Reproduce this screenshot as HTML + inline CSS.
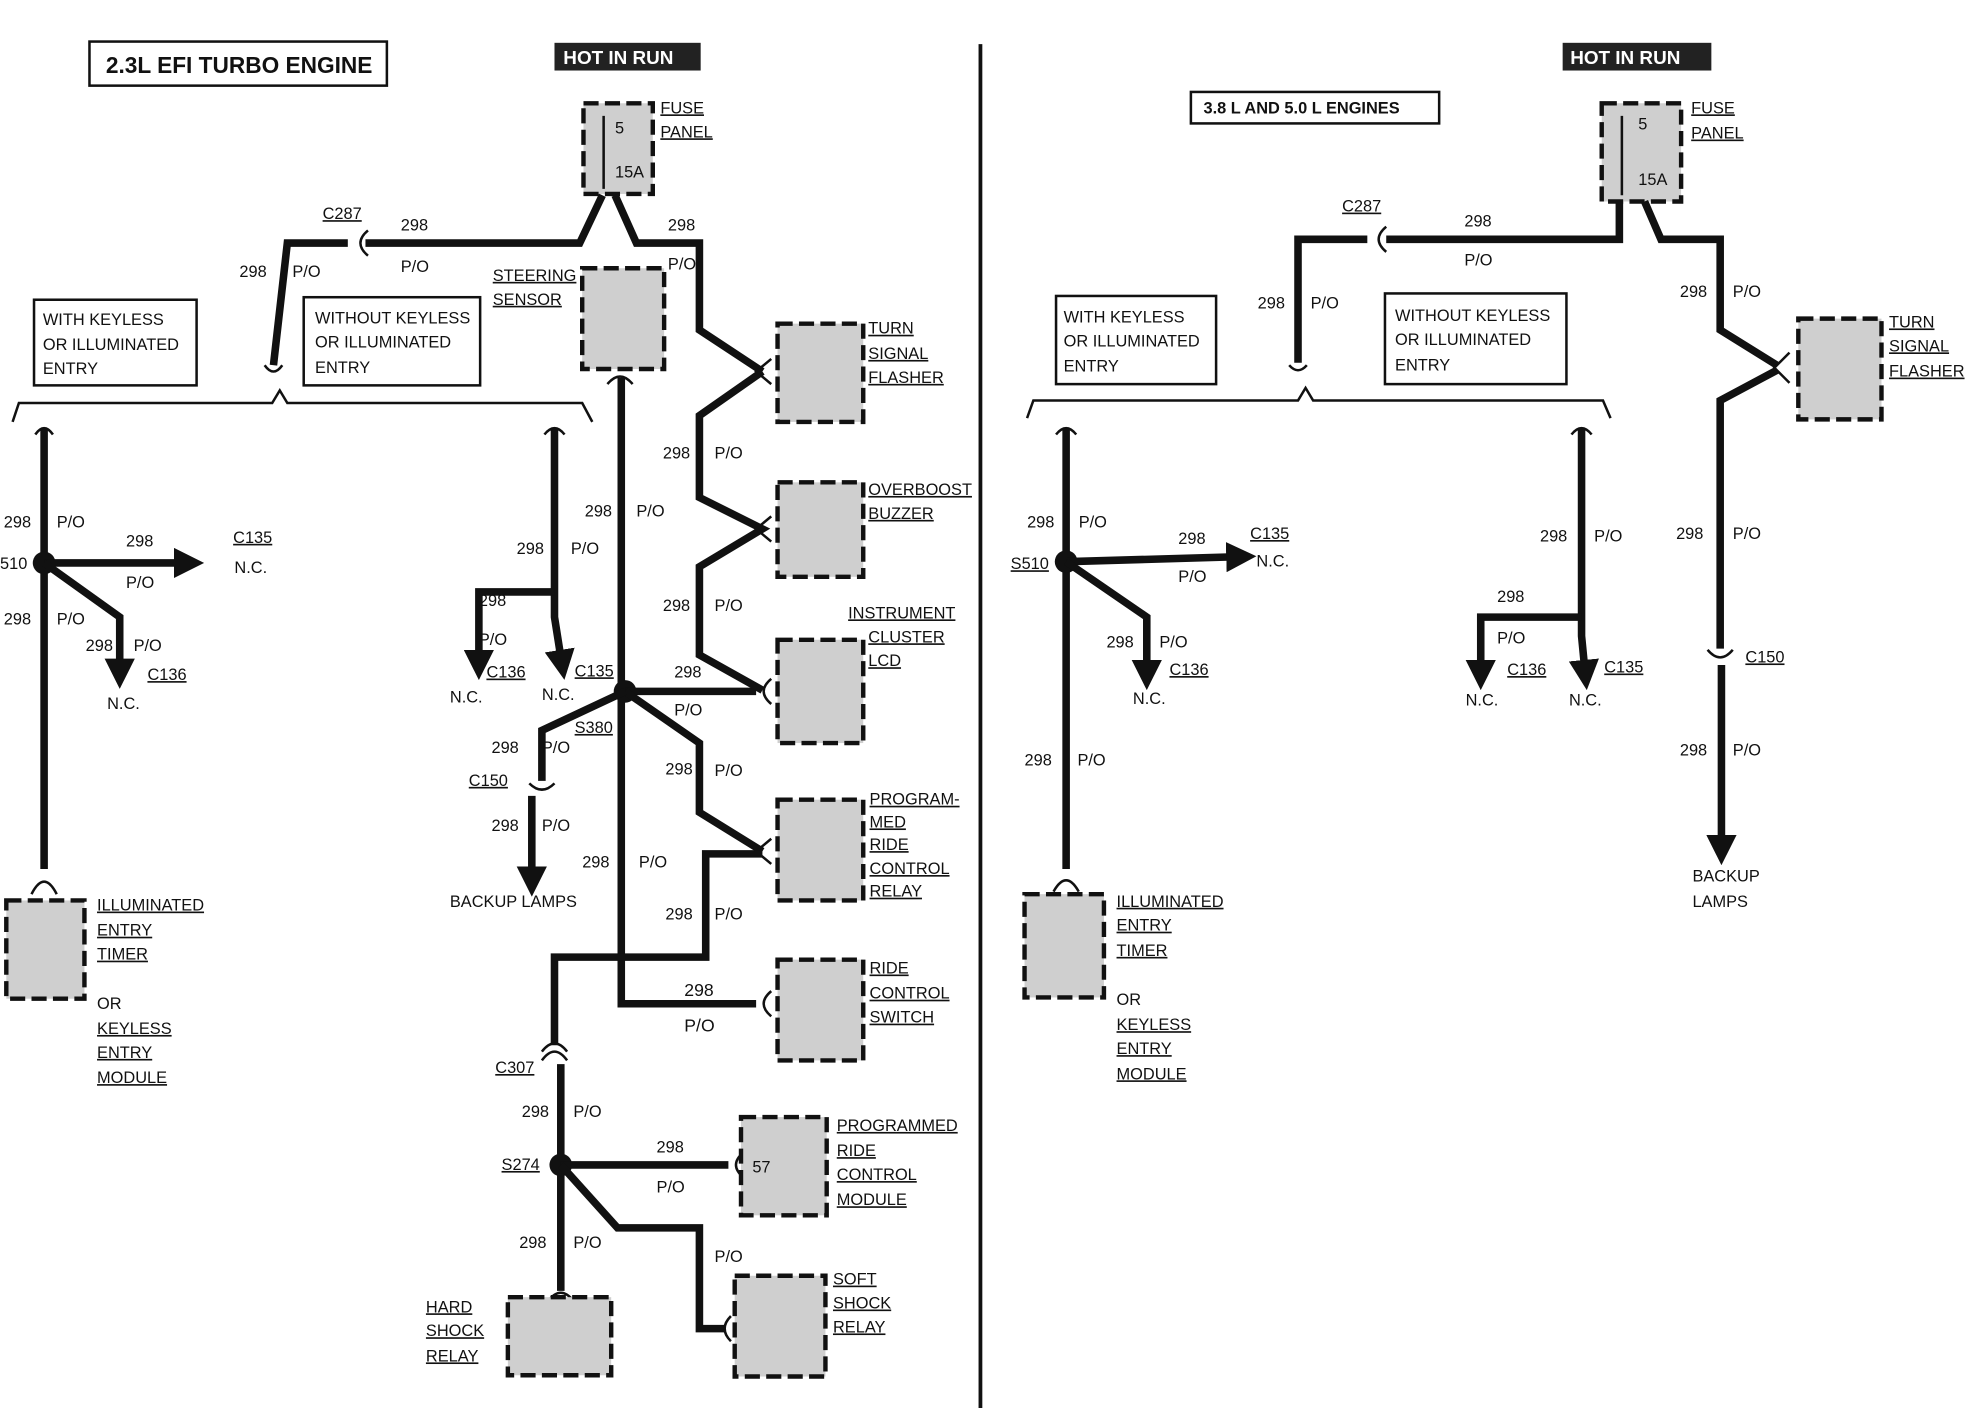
<!DOCTYPE html>
<html><head><meta charset="utf-8"><style>
html,body{margin:0;padding:0;background:#fff}
svg{display:block}
text{font-family:"Liberation Sans",Arial,sans-serif;font-size:13px;fill:#111}
.u{text-decoration:underline}
.w{fill:none;stroke:#111;stroke-width:6;stroke-linejoin:miter}
.t{fill:none;stroke:#111;stroke-width:2}
.b{fill:#cfcfcf;stroke:#111;stroke-width:3.5;stroke-dasharray:12 5}
</style></head><body>
<svg width="1976" height="1408" viewBox="0 0 1568 1118" preserveAspectRatio="none" xmlns="http://www.w3.org/2000/svg">
<defs><marker id="a" markerWidth="4" markerHeight="4" refX="2" refY="2" orient="auto"><path d="M0,0 L4,2 L0,4 z" fill="#111"/></marker></defs>
<rect width="1568" height="1118" fill="#fff"/>
<line x1="778" y1="35" x2="778" y2="1118" stroke="#111" stroke-width="3"/>

<rect x="71" y="33" width="236" height="35" class="t" fill="none"/>
<text x="84" y="58" style="font-size:18px;font-weight:bold">2.3L EFI TURBO ENGINE</text>
<rect x="440" y="34" width="116" height="22" fill="#222"/>
<text x="447" y="51" style="fill:#fff;font-size:15px;font-weight:bold">HOT IN RUN</text>
<rect x="463" y="82" width="55" height="72" class="b"/>
<text x="488" y="106">5</text><text x="488" y="141">15A</text>
<path d="M479,92 V150" class="t"/>
<text x="524" y="90" class="u">FUSE</text><text x="524" y="109" class="u">PANEL</text>
<path d="M478,155 L460,193 H290" class="w"/>
<path d="M292,183 Q280,193 292,203" class="t" stroke-width="4"/>
<path d="M276,193 H228 L217,290" class="w"/>
<path d="M210,290 Q217,300 224,290" class="t" stroke-width="3"/>
<text x="256" y="174" class="u">C287</text><text x="318" y="183">298</text><text x="318" y="216">P/O</text>
<text x="190" y="220">298</text><text x="232" y="220">P/O</text>
<path d="M488,155 L505,193 H555 V262 L605,295" class="w"/>
<text x="530" y="183">298</text><text x="530" y="214">P/O</text>
<path d="M10,335 L15,320 H216 L222,310 L228,320 H462 L470,335" class="t"/>
<rect x="27" y="238" width="129" height="68" class="t" fill="none"/>
<text x="34" y="258">WITH KEYLESS</text><text x="34" y="278">OR ILLUMINATED</text><text x="34" y="297">ENTRY</text>
<rect x="241" y="236" width="140" height="70" class="t" fill="none"/>
<text x="250" y="257">WITHOUT KEYLESS</text><text x="250" y="276">OR ILLUMINATED</text><text x="250" y="296">ENTRY</text>
<path d="M28,345 Q35,335 42,345" class="t" stroke-width="3"/>
<path d="M35,340 V690" class="w"/>
<path d="M25,710 Q35,690 45,710" class="t" stroke-width="4"/>
<circle cx="35" cy="447" r="9" fill="#111"/>
<path d="M35,447 H150" class="w" marker-end="url(#a)"/>
<path d="M35,447 L95,490 V535" class="w" marker-end="url(#a)"/>
<text x="3" y="419">298</text><text x="45" y="419">P/O</text><text x="0" y="452">510</text>
<text x="100" y="434">298</text><text x="100" y="467">P/O</text>
<text x="185" y="431" class="u">C135</text><text x="186" y="455">N.C.</text>
<text x="3" y="496">298</text><text x="45" y="496">P/O</text>
<text x="68" y="517">298</text><text x="106" y="517">P/O</text>
<text x="117" y="540" class="u">C136</text><text x="85" y="563">N.C.</text>
<rect x="5" y="715" width="62" height="78" class="b"/>
<text x="77" y="723" class="u">ILLUMINATED</text><text x="77" y="743" class="u">ENTRY</text><text x="77" y="762" class="u">TIMER</text>
<text x="77" y="801">OR</text><text x="77" y="821" class="u">KEYLESS</text><text x="77" y="840" class="u">ENTRY</text><text x="77" y="860" class="u">MODULE</text>
<path d="M432,345 Q440,335 448,345" class="t" stroke-width="3"/>
<path d="M440,340 V490 L446,528" class="w" marker-end="url(#a)"/>
<path d="M440,470 H380 V528" class="w" marker-end="url(#a)"/>
<text x="410" y="440">298</text><text x="453" y="440">P/O</text>
<text x="380" y="481">298</text><text x="380" y="512">P/O</text>
<text x="386" y="538" class="u">C136</text><text x="357" y="558">N.C.</text><text x="430" y="556">N.C.</text>
<text x="456" y="537" class="u">C135</text>
<rect x="462" y="213" width="65" height="80" class="b"/>
<text x="391" y="223" class="u">STEERING</text><text x="391" y="242" class="u">SENSOR</text>
<path d="M482,305 Q492,293 502,305" class="t" stroke-width="4"/>
<path d="M493,300 V797 H600" class="w"/>
<path d="M612,787 Q600,797 612,807" class="t" stroke-width="4"/>
<text x="464" y="410">298</text><text x="505" y="410">P/O</text>
<text x="543" y="791" style="font-size:14px">298</text><text x="543" y="819" style="font-size:14px">P/O</text>
<text x="462" y="689">298</text><text x="507" y="689">P/O</text>
<circle cx="496" cy="549" r="9" fill="#111"/>
<path d="M496,549 H600" class="w"/>
<path d="M612,539 Q600,549 612,559" class="t" stroke-width="4"/>
<text x="535" y="538">298</text><text x="535" y="568">P/O</text>
<path d="M612,285 L600,295 L612,305" class="t" stroke-width="4"/>
<path d="M605,295 L555,330 V395 L605,420 L555,450 V520 L605,548" class="w"/>
<path d="M612,410 L600,420 L612,430" class="t" stroke-width="4"/>
<text x="526" y="364">298</text><text x="567" y="364">P/O</text>
<text x="526" y="485">298</text><text x="567" y="485">P/O</text>
<rect x="617" y="257" width="68" height="78" class="b"/>
<text x="689" y="265" class="u">TURN</text><text x="689" y="285" class="u">SIGNAL</text><text x="689" y="304" class="u">FLASHER</text>
<rect x="617" y="383" width="68" height="75" class="b"/>
<text x="689" y="393" class="u">OVERBOOST</text><text x="689" y="412" class="u">BUZZER</text>
<rect x="617" y="508" width="68" height="82" class="b"/>
<text x="673" y="491" class="u">INSTRUMENT</text><text x="689" y="510" class="u">CLUSTER</text><text x="689" y="529" class="u">LCD</text>
<path d="M496,549 L555,590 V645 L605,676" class="w"/>
<path d="M612,666 L600,676 L612,686" class="t" stroke-width="4"/>
<text x="528" y="615">298</text><text x="567" y="616">P/O</text>
<path d="M605,678 H560 V760 H440 V830" class="w"/>
<text x="528" y="730">298</text><text x="567" y="730">P/O</text>
<rect x="617" y="635" width="68" height="80" class="b"/>
<text x="690" y="639" class="u">PROGRAM-</text><text x="690" y="657" class="u">MED</text><text x="690" y="675" class="u">RIDE</text><text x="690" y="694" class="u">CONTROL</text><text x="690" y="712" class="u">RELAY</text>
<rect x="617" y="762" width="68" height="80" class="b"/>
<text x="690" y="773" class="u">RIDE</text><text x="690" y="793" class="u">CONTROL</text><text x="690" y="812" class="u">SWITCH</text>
<path d="M496,549 L430,580 V620" class="w"/>
<path d="M420,622 Q430,632 440,622" class="t" stroke-width="4"/>
<path d="M422,632 V700" class="w" marker-end="url(#a)"/>
<text x="456" y="582" class="u">S380</text>
<text x="390" y="598">298</text><text x="430" y="598">P/O</text>
<text x="372" y="624" class="u">C150</text>
<text x="390" y="660">298</text><text x="430" y="660">P/O</text>
<text x="357" y="720">BACKUP  LAMPS</text>
<path d="M430,842 Q440,828 450,842" class="t" stroke-width="4"/>
<path d="M430,835 Q440,822 450,835" class="t" stroke-width="3"/>
<path d="M445,845 V1025" class="w"/>
<text x="393" y="852" class="u">C307</text>
<text x="414" y="887">298</text><text x="455" y="887">P/O</text>
<circle cx="445" cy="925" r="9" fill="#111"/>
<text x="398" y="929" class="u">S274</text>
<path d="M445,925 H578" class="w"/>
<path d="M590,915 Q578,925 590,935" class="t" stroke-width="4"/>
<text x="521" y="915">298</text><text x="521" y="947">P/O</text>
<path d="M445,925 L490,975 H555 V1055 H575" class="w"/>
<path d="M580,1045 Q570,1055 580,1065" class="t" stroke-width="4"/>
<text x="412" y="991">298</text><text x="455" y="991">P/O</text><text x="567" y="1002">P/O</text>
<path d="M435,1033 Q445,1020 455,1033" class="t" stroke-width="4"/>
<rect x="588" y="887" width="68" height="78" class="b"/>
<text x="597" y="931">57</text>
<text x="664" y="898" class="u">PROGRAMMED</text><text x="664" y="918" class="u">RIDE</text><text x="664" y="937" class="u">CONTROL</text><text x="664" y="957" class="u">MODULE</text>
<rect x="403" y="1030" width="82" height="62" class="b"/>
<text x="338" y="1042" class="u">HARD</text><text x="338" y="1061" class="u">SHOCK</text><text x="338" y="1081" class="u">RELAY</text>
<rect x="583" y="1013" width="72" height="80" class="b"/>
<text x="661" y="1020" class="u">SOFT</text><text x="661" y="1039" class="u">SHOCK</text><text x="661" y="1058" class="u">RELAY</text>

<rect x="1240" y="34" width="118" height="22" fill="#222"/>
<text x="1246" y="51" style="fill:#fff;font-size:15px;font-weight:bold">HOT IN RUN</text>
<rect x="945" y="73" width="197" height="25" class="t" fill="none"/>
<text x="955" y="90" style="font-weight:bold">3.8 L AND 5.0 L ENGINES</text>
<rect x="1271" y="82" width="63" height="78" class="b"/>
<path d="M1287,92 V155" class="t"/>
<text x="1300" y="103">5</text><text x="1300" y="147">15A</text>
<text x="1342" y="90" class="u">FUSE</text><text x="1342" y="110" class="u">PANEL</text>
<path d="M1285,160 V190 H1100" class="w"/>
<path d="M1100,180 Q1088,190 1100,200" class="t" stroke-width="4"/>
<path d="M1085,190 H1030 V288" class="w"/>
<path d="M1023,290 Q1030,298 1037,290" class="t" stroke-width="3"/>
<text x="1065" y="168" class="u">C287</text><text x="1162" y="180">298</text><text x="1162" y="211">P/O</text>
<text x="998" y="245">298</text><text x="1040" y="245">P/O</text>
<path d="M815,332 L820,318 H1030 L1036,308 L1042,318 H1272 L1278,332" class="t"/>
<rect x="838" y="235" width="127" height="70" class="t" fill="none"/>
<text x="844" y="256">WITH KEYLESS</text><text x="844" y="275">OR ILLUMINATED</text><text x="844" y="295">ENTRY</text>
<rect x="1099" y="233" width="144" height="72" class="t" fill="none"/>
<text x="1107" y="255">WITHOUT KEYLESS</text><text x="1107" y="274">OR ILLUMINATED</text><text x="1107" y="294">ENTRY</text>
<path d="M838,345 Q846,335 854,345" class="t" stroke-width="3"/>
<path d="M846,340 V690" class="w"/>
<path d="M836,708 Q846,690 856,708" class="t" stroke-width="4"/>
<circle cx="846" cy="446" r="9" fill="#111"/>
<path d="M846,446 L985,442" class="w" marker-end="url(#a)"/>
<path d="M846,446 L910,490 V536" class="w" marker-end="url(#a)"/>
<text x="815" y="419">298</text><text x="856" y="419">P/O</text>
<text x="802" y="452" class="u">S510</text>
<text x="935" y="432">298</text><text x="935" y="462">P/O</text>
<text x="992" y="428" class="u">C135</text><text x="997" y="450">N.C.</text>
<text x="878" y="514">298</text><text x="920" y="514">P/O</text>
<text x="928" y="536" class="u">C136</text><text x="899" y="559">N.C.</text>
<text x="813" y="608">298</text><text x="855" y="608">P/O</text>
<rect x="813" y="710" width="63" height="82" class="b"/>
<text x="886" y="720" class="u">ILLUMINATED</text><text x="886" y="739" class="u">ENTRY</text><text x="886" y="759" class="u">TIMER</text>
<text x="886" y="798">OR</text><text x="886" y="818" class="u">KEYLESS</text><text x="886" y="837" class="u">ENTRY</text><text x="886" y="857" class="u">MODULE</text>
<path d="M1247,345 Q1255,335 1263,345" class="t" stroke-width="3"/>
<path d="M1255,340 V505 L1258,536" class="w" marker-end="url(#a)"/>
<path d="M1255,490 H1175 V536" class="w" marker-end="url(#a)"/>
<text x="1222" y="430">298</text><text x="1265" y="430">P/O</text>
<text x="1188" y="478">298</text><text x="1188" y="511">P/O</text>
<text x="1196" y="536" class="u">C136</text><text x="1273" y="534" class="u">C135</text>
<text x="1163" y="560">N.C.</text><text x="1245" y="560">N.C.</text>
<path d="M1305,160 L1318,190 H1365 V262 L1410,290" class="w"/>
<path d="M1420,280 L1408,292 L1420,304" class="t" stroke-width="4"/>
<path d="M1410,294 L1365,318 V515" class="w"/>
<path d="M1355,516 Q1365,528 1375,516" class="t" stroke-width="4"/>
<path d="M1366,528 V675" class="w" marker-end="url(#a)"/>
<text x="1333" y="236">298</text><text x="1375" y="236">P/O</text>
<text x="1330" y="428">298</text><text x="1375" y="428">P/O</text>
<text x="1385" y="526" class="u">C150</text>
<text x="1333" y="600">298</text><text x="1375" y="600">P/O</text>
<text x="1343" y="700">BACKUP</text><text x="1343" y="720">LAMPS</text>
<rect x="1427" y="253" width="66" height="80" class="b"/>
<text x="1499" y="260" class="u">TURN</text><text x="1499" y="279" class="u">SIGNAL</text><text x="1499" y="299" class="u">FLASHER</text>
</svg>
</body></html>
